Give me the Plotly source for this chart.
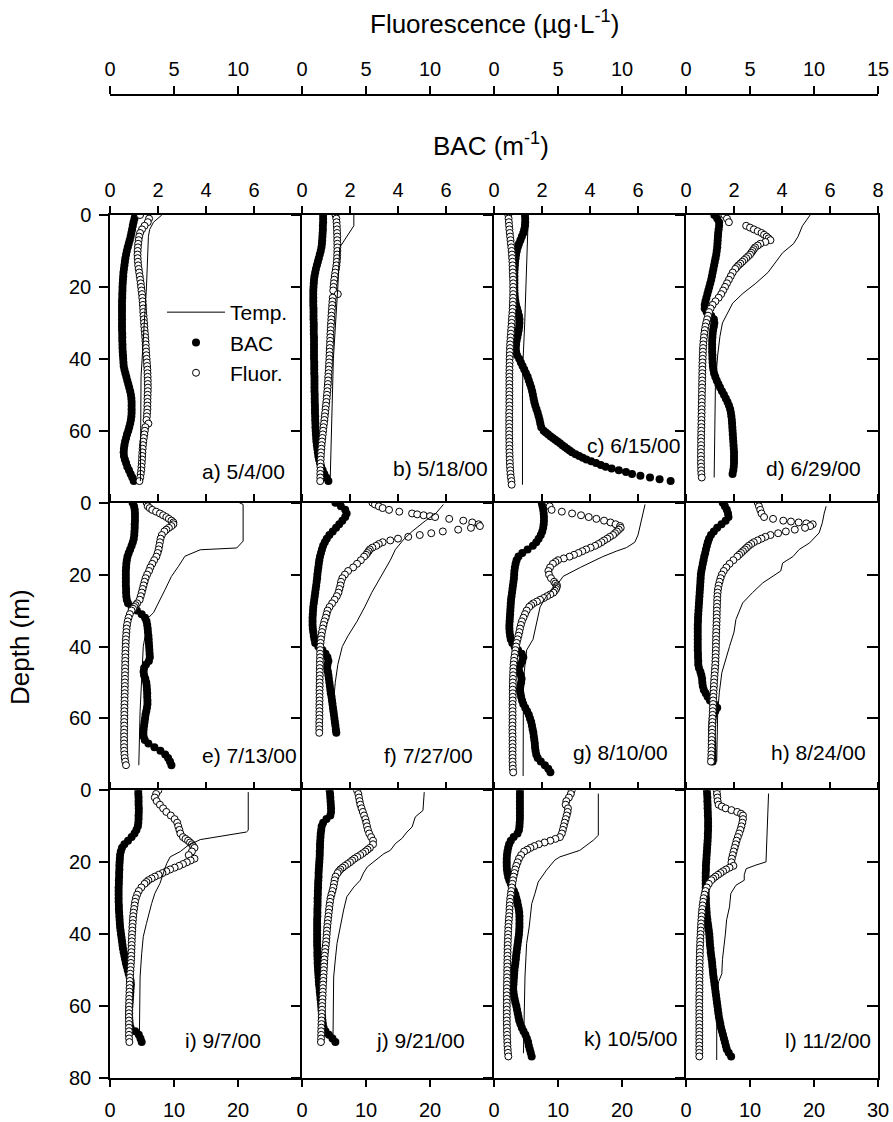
import plotly.graph_objects as go

# ---------------------------------------------------------------------------
# Depth grid (m) shared by the BAC and fluorescence profiles
# ---------------------------------------------------------------------------
depth_m = [0, 1, 2, 3, 4, 5, 6, 7, 8, 9,
           10, 11, 12, 13, 14, 15, 16, 17, 18, 19,
           20, 21, 22, 23, 24, 25, 26, 27, 28, 29,
           30, 31, 32, 33, 34, 35, 36, 37, 38, 39,
           40, 41, 42, 43, 44, 45, 46, 47, 48, 49,
           50, 51, 52, 53, 54, 55, 56, 57, 58, 59,
           60, 61, 62, 63, 64, 65, 66, 67, 68, 69,
           70, 71, 72, 73, 74, 75]

# ---------------------------------------------------------------------------
# a) 5/4/00
# ---------------------------------------------------------------------------
a_bac = [1.05, 1.02, 0.98, 0.95, 0.92, 0.89, 0.86, 0.82, 0.78, 0.74,
         0.70, 0.67, 0.64, 0.62, 0.60, 0.58, 0.56, 0.55, 0.54, 0.53,
         0.52, 0.52, 0.51, 0.51, 0.50, 0.50, 0.50, 0.50, 0.50, 0.50,
         0.50, 0.50, 0.50, 0.51, 0.51, 0.51, 0.52, 0.52, 0.53, 0.54,
         0.55, 0.56, 0.57, 0.60, 0.64, 0.68, 0.72, 0.76, 0.80, 0.84,
         0.87, 0.89, 0.90, 0.90, 0.90, 0.90, 0.89, 0.87, 0.84, 0.80,
         0.76, 0.71, 0.67, 0.63, 0.60, 0.58, 0.57, 0.58, 0.62, 0.67,
         0.72, 0.79, 0.86, 0.93, 0.99]
a_fluor = [2.35, 3.05, 2.95, 2.70, 2.50, 2.35, 2.28, 2.24, 2.20, 2.18,
           2.16, 2.15, 2.16, 2.18, 2.20, 2.24, 2.28, 2.32, 2.36, 2.40,
           2.43, 2.46, 2.50, 2.52, 2.55, 2.57, 2.59, 2.60, 2.62, 2.64,
           2.66, 2.68, 2.70, 2.73, 2.75, 2.77, 2.79, 2.80, 2.82, 2.84,
           2.86, 2.88, 2.90, 2.92, 2.93, 2.94, 2.95, 2.95, 2.96, 2.95,
           2.94, 2.93, 2.93, 2.92, 2.92, 2.90, 2.88, 2.85, 3.00, 2.76,
           2.72, 2.68, 2.64, 2.60, 2.57, 2.55, 2.53, 2.51, 2.50, 2.48,
           2.46, 2.44, 2.40, 2.36, 2.30]
a_temp_depth = [0, 1, 2, 4, 6, 20, 40, 45, 74]
a_temp = [8.1, 7.5, 6.8, 6.2, 6.0, 5.7, 5.0, 4.85, 4.75]

# ---------------------------------------------------------------------------
# b) 5/18/00
# ---------------------------------------------------------------------------
b_bac = [0.88, 0.88, 0.88, 0.87, 0.87, 0.86, 0.85, 0.84, 0.83, 0.81,
         0.78, 0.74, 0.70, 0.66, 0.62, 0.58, 0.55, 0.52, 0.50, 0.49,
         0.48, 0.47, 0.47, 0.47, 0.47, 0.47, 0.48, 0.48, 0.48, 0.48,
         0.49, 0.49, 0.49, 0.49, 0.50, 0.50, 0.50, 0.50, 0.50, 0.50,
         0.50, 0.51, 0.51, 0.51, 0.51, 0.52, 0.52, 0.52, 0.52, 0.52,
         0.53, 0.53, 0.53, 0.54, 0.54, 0.54, 0.55, 0.55, 0.56, 0.56,
         0.57, 0.58, 0.59, 0.60, 0.62, 0.64, 0.66, 0.68, 0.71, 0.75,
         0.80, 0.86, 0.93, 1.01, 1.10]
b_fluor = [2.62, 2.68, 2.70, 2.72, 2.73, 2.74, 2.75, 2.75, 2.76, 2.76,
           2.76, 2.75, 2.74, 2.72, 2.69, 2.65, 2.60, 2.56, 2.52, 2.49,
           2.46, 2.44, 2.80, 2.40, 2.38, 2.36, 2.34, 2.32, 2.30, 2.29,
           2.27, 2.25, 2.24, 2.22, 2.21, 2.20, 2.19, 2.17, 2.16, 2.15,
           2.14, 2.12, 2.11, 2.09, 2.07, 2.05, 2.04, 2.02, 2.00, 1.98,
           1.95, 1.93, 1.90, 1.87, 1.84, 1.81, 1.78, 1.75, 1.72, 1.68,
           1.65, 1.62, 1.59, 1.56, 1.53, 1.51, 1.49, 1.47, 1.46, 1.45,
           1.44, 1.44, 1.43, 1.43, 1.42]
b_temp_depth = [0, 3, 9, 20, 40, 60, 74]
b_temp = [8.1, 8.1, 5.9, 5.6, 4.9, 4.6, 4.4]

# ---------------------------------------------------------------------------
# c) 6/15/00
# ---------------------------------------------------------------------------
c_bac = [1.29, 1.30, 1.30, 1.29, 1.26, 1.22, 1.16, 1.10, 1.04, 0.99,
         0.95, 0.92, 0.90, 0.88, 0.87, 0.86, 0.85, 0.85, 0.85, 0.85,
         0.85, 0.85, 0.86, 0.87, 0.89, 0.92, 0.96, 1.00, 1.04, 1.06,
         1.06, 1.05, 1.03, 1.00, 0.97, 0.94, 0.92, 0.91, 0.92, 0.96,
         1.05, 1.12, 1.19, 1.26, 1.33, 1.40, 1.45, 1.50, 1.55, 1.59,
         1.62, 1.65, 1.68, 1.72, 1.77, 1.82, 1.86, 1.90, 1.93, 1.97,
         2.07, 2.25, 2.45, 2.65, 2.85, 3.05, 3.25, 3.55, 3.85, 4.25,
         4.65, 5.20, 5.75, 6.50, 7.36]
c_bac_fine_depth = [60.5, 61.5, 62.5, 63.5, 64.5, 65.5, 66.5, 67.5, 68.5, 69.5,
                    70.5, 71.5, 72.5, 73.5]
c_bac_fine = [2.16, 2.35, 2.55, 2.75, 2.95, 3.15, 3.40, 3.70, 4.05, 4.45,
              4.90, 5.50, 6.10, 6.90]
c_fluor = [1.12, 1.14, 1.16, 1.18, 1.20, 1.23, 1.26, 1.29, 1.32, 1.35,
           1.38, 1.40, 1.42, 1.44, 1.45, 1.46, 1.47, 1.48, 1.49, 1.50,
           1.50, 1.50, 1.50, 1.49, 1.48, 1.47, 1.46, 1.44, 1.42, 1.40,
           1.38, 1.36, 1.34, 1.32, 1.30, 1.28, 1.26, 1.25, 1.24, 1.23,
           1.22, 1.22, 1.21, 1.21, 1.20, 1.20, 1.20, 1.20, 1.20, 1.20,
           1.20, 1.20, 1.20, 1.20, 1.20, 1.19, 1.19, 1.19, 1.19, 1.19,
           1.19, 1.19, 1.19, 1.20, 1.20, 1.20, 1.21, 1.22, 1.23, 1.24,
           1.25, 1.27, 1.29, 1.32, 1.36, 1.38]
c_temp_depth = [0, 10, 20, 30, 40, 50, 75]
c_temp = [5.36, 5.2, 5.0, 4.8, 4.55, 4.45, 4.45]

# ---------------------------------------------------------------------------
# d) 6/29/00
# ---------------------------------------------------------------------------
d_bac = [1.18, 1.30, 1.38, 1.38, 1.36, 1.34, 1.33, 1.32, 1.31, 1.30,
         1.28, 1.26, 1.23, 1.20, 1.17, 1.14, 1.11, 1.08, 1.05, 1.01,
         0.97, 0.93, 0.89, 0.85, 0.81, 0.78, 0.78, 0.86, 1.05, 1.16,
         1.18, 1.16, 1.13, 1.11, 1.10, 1.09, 1.09, 1.09, 1.09, 1.10,
         1.10, 1.11, 1.12, 1.14, 1.17, 1.22, 1.28, 1.35, 1.42, 1.50,
         1.58, 1.66, 1.73, 1.79, 1.84, 1.87, 1.89, 1.91, 1.92, 1.93,
         1.94, 1.95, 1.96, 1.97, 1.98, 1.99, 2.00, 2.00, 2.00, 2.00,
         1.99, 1.97, 1.94]
d_fluor = [3.00, 3.20, 3.35, 4.70, 5.30, 5.90, 6.30, 6.60, 5.80, 5.40,
           5.20, 5.00, 4.70, 4.40, 4.10, 3.85, 3.65, 3.50, 3.35, 3.20,
           3.05, 2.90, 2.75, 2.55, 2.30, 2.08, 1.92, 1.80, 1.72, 1.65,
           1.58, 1.52, 1.47, 1.43, 1.40, 1.37, 1.35, 1.33, 1.32, 1.31,
           1.30, 1.29, 1.28, 1.28, 1.27, 1.27, 1.26, 1.26, 1.25, 1.25,
           1.24, 1.24, 1.23, 1.23, 1.22, 1.22, 1.21, 1.21, 1.20, 1.20,
           1.19, 1.19, 1.18, 1.18, 1.18, 1.17, 1.17, 1.17, 1.17, 1.17,
           1.18, 1.18, 1.20, 1.23]
d_fluor_fine_depth = [3.5, 4.5, 5.5, 6.5, 7.5, 8.5, 9.5, 10.5, 11.5, 12.5, 13.5, 14.5]
d_fluor_fine = [5.0, 5.6, 6.1, 6.45, 6.2, 5.6, 5.3, 5.1, 4.85, 4.55, 4.25, 3.97]
d_temp_depth = [0, 1, 3, 6, 8, 10.5, 13, 16, 19, 21.8, 24.5, 28, 30, 33.8, 39, 46.8, 73]
d_temp = [19.4, 19.0, 18.2, 17.5, 16.8, 15.1, 14.0, 12.8, 10.9, 8.9, 7.3, 6.25, 5.7, 5.3, 4.95, 4.6, 4.4]

# ---------------------------------------------------------------------------
# e) 7/13/00
# ---------------------------------------------------------------------------
e_bac = [0.94, 1.00, 1.03, 1.04, 1.04, 1.04, 1.03, 1.03, 1.02, 1.01,
         0.99, 0.95, 0.90, 0.84, 0.78, 0.73, 0.70, 0.68, 0.67, 0.66,
         0.66, 0.66, 0.66, 0.66, 0.67, 0.67, 0.68, 0.70, 0.75, 0.90,
         1.12, 1.32, 1.46, 1.52, 1.55, 1.57, 1.58, 1.60, 1.61, 1.62,
         1.63, 1.64, 1.65, 1.66, 1.62, 1.50, 1.42, 1.40, 1.42, 1.47,
         1.51, 1.53, 1.54, 1.55, 1.55, 1.56, 1.56, 1.54, 1.51, 1.48,
         1.46, 1.44, 1.42, 1.40, 1.39, 1.40, 1.45, 1.60, 1.85, 2.10,
         2.30, 2.42, 2.50, 2.56]
e_fluor = [2.86, 2.95, 3.30, 3.90, 4.40, 4.80, 4.95, 4.60, 4.25, 4.05,
           3.95, 3.90, 3.85, 3.80, 3.72, 3.62, 3.45, 3.30, 3.15, 3.05,
           2.90, 2.78, 2.70, 2.62, 2.55, 2.48, 2.40, 2.32, 2.12, 1.90,
           1.68, 1.55, 1.45, 1.38, 1.33, 1.30, 1.28, 1.26, 1.24, 1.23,
           1.22, 1.21, 1.20, 1.20, 1.19, 1.19, 1.18, 1.18, 1.17, 1.17,
           1.16, 1.16, 1.15, 1.15, 1.14, 1.14, 1.13, 1.13, 1.12, 1.12,
           1.12, 1.11, 1.11, 1.11, 1.10, 1.10, 1.10, 1.10, 1.10, 1.11,
           1.13, 1.15, 1.19, 1.25]
e_fluor_fine_depth = [1.5, 2.5, 3.5, 4.5, 5.5, 6.5, 7.5, 28.5, 29.5]
e_fluor_fine = [3.1, 3.6, 4.15, 4.6, 4.95, 4.8, 4.4, 2.0, 1.8]
e_temp_depth = [0, 0.5, 10.7, 12.6, 13.1, 14.9, 17.7, 20.5, 24.2, 27, 30.6, 32, 40, 49, 58, 73]
e_temp = [20.2, 20.8, 20.8, 19.8, 14.1, 11.7, 10.7, 9.6, 8.6, 7.8, 6.8, 6.0, 5.2, 4.95, 4.7, 4.5]

# ---------------------------------------------------------------------------
# f) 7/27/00
# ---------------------------------------------------------------------------
f_bac = [1.39, 1.62, 1.80, 1.86, 1.80, 1.68, 1.55, 1.42, 1.28, 1.14,
         1.03, 0.95, 0.88, 0.83, 0.79, 0.75, 0.72, 0.70, 0.68, 0.66,
         0.64, 0.63, 0.61, 0.59, 0.57, 0.55, 0.53, 0.51, 0.49, 0.47,
         0.46, 0.45, 0.44, 0.44, 0.44, 0.45, 0.47, 0.49, 0.52, 0.55,
         0.68, 0.85, 0.98, 1.06, 1.10, 1.06, 1.05, 1.08, 1.10, 1.12,
         1.14, 1.16, 1.18, 1.20, 1.23, 1.25, 1.27, 1.29, 1.31, 1.33,
         1.35, 1.37, 1.39, 1.41, 1.43]
f_fluor = [5.50, 6.00, 6.80, 8.60, 10.40, 12.60, 13.80, 13.20, 11.00, 9.20,
           7.50, 6.30, 5.80, 5.30, 5.10, 4.85, 4.60, 4.30, 4.00, 3.60,
           3.35, 3.15, 3.05, 3.00, 2.92, 2.85, 2.72, 2.55, 2.35, 2.15,
           2.00, 1.92, 1.85, 1.75, 1.68, 1.62, 1.56, 1.52, 1.48, 1.45,
           1.43, 1.42, 1.41, 1.41, 1.40, 1.40, 1.39, 1.39, 1.39, 1.38,
           1.38, 1.38, 1.37, 1.37, 1.37, 1.37, 1.36, 1.36, 1.36, 1.36,
           1.36, 1.35, 1.35, 1.35, 1.35]
f_fluor_fine_depth = [0.5, 1.5, 2.5, 3.25, 3.5, 3.75, 4.5, 5.5, 6.5, 7.5, 8.5, 9.5,
                      10.5, 11.5, 12.5, 13.5, 14.5]
f_fluor_fine = [5.7, 6.3, 7.6, 9.0, 9.5, 10.0, 11.5, 13.3, 13.9, 12.2, 10.1, 8.3,
                6.9, 6.0, 5.5, 5.2, 5.0]
f_temp_depth = [0.5, 3, 5, 8, 10, 13, 16, 20, 25, 29, 33, 37, 40, 45, 50, 55, 64]
f_temp = [22.1, 20.9, 19.3, 17.2, 16.0, 14.6, 13.8, 12.5, 10.9, 9.8, 8.6, 7.2, 6.3, 5.6, 5.2, 4.95, 4.8]

# ---------------------------------------------------------------------------
# g) 8/10/00
# ---------------------------------------------------------------------------
g_bac = [1.99, 2.02, 2.05, 2.07, 2.08, 2.08, 2.07, 2.05, 2.01, 1.95,
         1.86, 1.76, 1.62, 1.40, 1.18, 1.02, 0.94, 0.90, 0.87, 0.85,
         0.84, 0.83, 0.81, 0.79, 0.77, 0.75, 0.73, 0.71, 0.70, 0.69,
         0.68, 0.67, 0.66, 0.65, 0.64, 0.64, 0.65, 0.67, 0.70, 0.76,
         0.86, 1.00, 1.15, 1.22, 1.18, 1.10, 1.03, 1.05, 1.12, 1.15,
         1.13, 1.10, 1.08, 1.10, 1.13, 1.17, 1.22, 1.30, 1.38, 1.45,
         1.50, 1.55, 1.58, 1.61, 1.64, 1.66, 1.68, 1.70, 1.71, 1.73,
         1.76, 1.82, 1.95, 2.12, 2.26, 2.35]
g_fluor = [4.24, 4.35, 4.50, 6.10, 7.40, 8.60, 9.50, 9.90, 9.60, 9.30,
           8.85, 8.40, 7.90, 7.20, 6.60, 5.90, 5.00, 4.60, 4.38, 4.25,
           4.30, 4.45, 4.70, 4.92, 4.85, 4.64, 4.15, 3.60, 3.07, 2.75,
           2.55, 2.42, 2.30, 2.18, 2.10, 2.03, 1.98, 1.91, 1.84, 1.77,
           1.72, 1.67, 1.63, 1.59, 1.56, 1.53, 1.51, 1.50, 1.49, 1.48,
           1.47, 1.47, 1.46, 1.46, 1.46, 1.46, 1.45, 1.45, 1.45, 1.45,
           1.45, 1.45, 1.44, 1.44, 1.44, 1.45, 1.45, 1.45, 1.45, 1.45,
           1.45, 1.45, 1.45, 1.46, 1.47, 1.50]
g_fluor_fine_depth = [2.5, 3.5, 4.5, 5.5, 6.5, 7.5, 8.5, 9.5, 10.5, 11.5, 12.5, 13.5,
                      14.5, 15.5, 16.5, 22.5, 23.5, 24.5, 25.5, 26.5, 27.5, 28.5]
g_fluor_fine = [5.3, 6.8, 8.0, 9.1, 9.85, 9.75, 9.45, 9.05, 8.6, 8.15, 7.55, 6.9,
                6.25, 5.45, 4.8, 4.8, 4.9, 4.75, 4.4, 3.9, 3.35, 2.9]
g_temp_depth = [0.5, 3, 6, 9, 11, 12.5, 13.5, 15, 18, 20.5, 22.5, 26, 29, 38, 41, 44, 49, 76]
g_temp = [23.6, 23.3, 22.9, 22.5, 22.0, 20.7, 19.1, 17.0, 13.5, 10.8, 10.0, 8.2, 7.2, 6.1, 5.1, 4.9, 4.6, 4.55]

# ---------------------------------------------------------------------------
# h) 8/24/00
# ---------------------------------------------------------------------------
h_bac = [1.53, 1.62, 1.70, 1.75, 1.77, 1.65, 1.48, 1.30, 1.16, 1.04,
         0.96, 0.91, 0.87, 0.83, 0.80, 0.76, 0.73, 0.70, 0.67, 0.64,
         0.62, 0.61, 0.60, 0.59, 0.58, 0.57, 0.56, 0.55, 0.54, 0.53,
         0.52, 0.51, 0.50, 0.50, 0.49, 0.49, 0.49, 0.49, 0.49, 0.49,
         0.49, 0.49, 0.50, 0.50, 0.51, 0.51, 0.54, 0.60, 0.64, 0.67,
         0.68, 0.70, 0.74, 0.82, 0.90, 1.00, 1.18, 1.30, 1.22, 1.14,
         1.11, 1.10, 1.09, 1.08, 1.08, 1.08, 1.09, 1.10, 1.10, 1.11,
         1.11, 1.11, 1.11]
h_fluor = [5.60, 5.70, 5.80, 5.90, 6.10, 7.60, 9.90, 9.30, 7.80, 6.60,
           5.90, 5.30, 4.90, 4.60, 4.30, 4.00, 3.70, 3.40, 3.15, 2.95,
           2.80, 2.70, 2.62, 2.55, 2.50, 2.47, 2.45, 2.44, 2.43, 2.42,
           2.41, 2.40, 2.40, 2.39, 2.38, 2.37, 2.36, 2.35, 2.35, 2.34,
           2.34, 2.33, 2.32, 2.31, 2.30, 2.29, 2.27, 2.25, 2.23, 2.21,
           2.19, 2.18, 2.16, 2.15, 2.13, 2.12, 2.11, 2.10, 2.09, 2.08,
           2.07, 2.06, 2.05, 2.04, 2.03, 2.02, 2.01, 2.00, 2.00, 1.99,
           1.98, 1.97, 1.95]
h_fluor_fine_depth = [4.5, 5.25, 5.5, 5.75, 6.5, 7.5, 8.5, 9.5, 10.5, 11.5, 12.5, 13.5, 14.5]
h_fluor_fine = [6.8, 8.2, 8.8, 9.4, 9.7, 8.5, 7.2, 6.2, 5.6, 5.1, 4.75, 4.45, 4.15]
h_temp_depth = [1, 2.9, 5.6, 8.4, 11.2, 13, 15, 16.8, 19, 20.5, 22.3, 25, 27.9, 32.5, 36, 40,
                43.6, 47.3, 52.9, 58.4, 72]
h_temp = [21.9, 21.6, 21.3, 20.8, 19.3, 17.7, 16.7, 15.1, 14.8, 13.5, 12.0, 10.4, 8.85, 7.8,
          7.5, 6.8, 6.25, 5.6, 5.2, 4.95, 4.8]

# ---------------------------------------------------------------------------
# i) 9/7/00
# ---------------------------------------------------------------------------
i_bac = [1.18, 1.18, 1.19, 1.19, 1.19, 1.20, 1.20, 1.19, 1.19, 1.18,
         1.16, 1.10, 1.02, 0.90, 0.75, 0.60, 0.50, 0.45, 0.42, 0.41,
         0.40, 0.39, 0.39, 0.38, 0.38, 0.37, 0.37, 0.36, 0.36, 0.36,
         0.36, 0.36, 0.37, 0.37, 0.38, 0.39, 0.40, 0.41, 0.42, 0.44,
         0.46, 0.48, 0.50, 0.52, 0.54, 0.57, 0.60, 0.63, 0.66, 0.70,
         0.74, 0.78, 0.82, 0.86, 0.87, 0.86, 0.85, 0.84, 0.83, 0.82,
         0.81, 0.80, 0.80, 0.80, 0.81, 0.82, 0.86, 1.05, 1.20, 1.27,
         1.32]
i_fluor = [3.78, 3.60, 3.50, 3.65, 3.90, 4.15, 4.40, 4.75, 5.05, 5.25,
           5.33, 5.42, 5.50, 5.70, 6.10, 6.40, 6.60, 6.40, 6.15, 6.60,
           6.00, 5.40, 4.70, 4.10, 3.50, 3.00, 2.70, 2.45, 2.25, 2.12,
           2.02, 1.96, 1.92, 1.88, 1.84, 1.81, 1.79, 1.77, 1.75, 1.74,
           1.72, 1.71, 1.70, 1.69, 1.68, 1.67, 1.66, 1.65, 1.63, 1.62,
           1.60, 1.58, 1.56, 1.55, 1.54, 1.53, 1.52, 1.51, 1.50, 1.50,
           1.49, 1.49, 1.48, 1.48, 1.48, 1.48, 1.48, 1.48, 1.48, 1.49,
           1.51]
i_fluor_fine_depth = [13.5, 14.5, 15.5, 19.5, 20.5, 21.5, 22.5, 23.5, 24.5, 25.5]
i_fluor_fine = [5.9, 6.25, 6.5, 6.3, 5.7, 5.05, 4.4, 3.8, 3.25, 2.85]
i_temp_depth = [0.5, 11.1, 11.6, 13.7, 14.4, 15.3, 17, 18.5, 20.4, 23, 25.9, 28.7, 31.5, 37,
                40.7, 45.4, 51.9, 67.6]
i_temp = [21.6, 21.6, 21.3, 14.1, 13.3, 12.2, 11.0, 9.4, 8.85, 8.3, 7.8, 7.0, 6.5, 5.7,
          5.2, 4.95, 4.7, 4.6]

# ---------------------------------------------------------------------------
# j) 9/21/00
# ---------------------------------------------------------------------------
j_bac = [1.15, 1.17, 1.18, 1.19, 1.20, 1.21, 1.21, 1.18, 1.02, 0.88,
         0.82, 0.80, 0.78, 0.77, 0.76, 0.75, 0.75, 0.74, 0.74, 0.73,
         0.72, 0.71, 0.70, 0.69, 0.69, 0.68, 0.67, 0.67, 0.66, 0.66,
         0.65, 0.65, 0.65, 0.64, 0.64, 0.64, 0.63, 0.63, 0.63, 0.63,
         0.63, 0.63, 0.63, 0.63, 0.64, 0.64, 0.64, 0.65, 0.65, 0.66,
         0.67, 0.68, 0.69, 0.70, 0.71, 0.73, 0.74, 0.76, 0.77, 0.79,
         0.80, 0.81, 0.83, 0.84, 0.85, 0.87, 0.90, 0.98, 1.12, 1.27,
         1.39]
j_fluor = [4.30, 4.40, 4.45, 4.50, 4.56, 4.65, 4.75, 4.85, 4.95, 5.02,
           5.08, 5.15, 5.25, 5.40, 5.55, 5.55, 5.30, 4.95, 4.55, 4.10,
           3.75, 3.35, 3.00, 2.78, 2.62, 2.55, 2.50, 2.45, 2.38, 2.30,
           2.23, 2.19, 2.15, 2.12, 2.09, 2.06, 2.03, 2.00, 1.97, 1.95,
           1.93, 1.91, 1.89, 1.86, 1.83, 1.80, 1.77, 1.75, 1.73, 1.72,
           1.70, 1.69, 1.67, 1.66, 1.64, 1.63, 1.62, 1.61, 1.60, 1.58,
           1.57, 1.56, 1.55, 1.54, 1.53, 1.52, 1.51, 1.50, 1.50, 1.49,
           1.48]
j_fluor_fine_depth = [16.5, 17.5, 18.5, 19.5, 20.5, 21.5, 22.5]
j_fluor_fine = [5.12, 4.75, 4.32, 3.92, 3.55, 3.17, 2.88]
j_temp_depth = [0.5, 5.6, 7.4, 10.2, 11.6, 13.4, 14.8, 16.7, 17.6, 19.4, 21.3, 23, 25, 26.9,
                29.6, 33.3, 38, 42.6, 47.2, 51.9, 69.4]
j_temp = [19.1, 18.9, 17.7, 17.2, 16.4, 15.6, 14.6, 13.8, 12.8, 11.5, 10.2, 9.6, 9.1, 8.1,
          7.0, 6.5, 6.0, 5.47, 5.2, 4.95, 4.84]

# ---------------------------------------------------------------------------
# k) 10/5/00
# ---------------------------------------------------------------------------
k_bac = [1.08, 1.08, 1.08, 1.08, 1.08, 1.08, 1.08, 1.08, 1.08, 1.07,
         1.06, 1.04, 0.98, 0.82, 0.70, 0.63, 0.59, 0.56, 0.54, 0.53,
         0.53, 0.53, 0.54, 0.56, 0.59, 0.64, 0.70, 0.76, 0.83, 0.89,
         0.93, 0.97, 1.00, 1.03, 1.05, 1.06, 1.06, 1.06, 1.06, 1.05,
         1.04, 1.02, 1.00, 0.98, 0.96, 0.94, 0.92, 0.91, 0.89, 0.87,
         0.85, 0.84, 0.83, 0.82, 0.81, 0.80, 0.81, 0.83, 0.86, 0.89,
         0.93, 0.96, 0.99, 1.02, 1.05, 1.10, 1.16, 1.23, 1.31, 1.37,
         1.42, 1.45, 1.49, 1.53, 1.57]
k_fluor = [6.07, 6.00, 5.85, 5.65, 5.60, 5.78, 5.75, 5.68, 5.60, 5.52,
           5.45, 5.38, 5.30, 5.15, 4.40, 3.50, 2.85, 2.35, 2.12, 1.95,
           1.84, 1.74, 1.66, 1.60, 1.53, 1.48, 1.43, 1.39, 1.35, 1.31,
           1.27, 1.25, 1.23, 1.21, 1.20, 1.18, 1.16, 1.14, 1.12, 1.11,
           1.10, 1.09, 1.08, 1.07, 1.06, 1.06, 1.05, 1.05, 1.04, 1.04,
           1.03, 1.03, 1.02, 1.02, 1.01, 1.01, 1.00, 1.00, 1.00, 1.00,
           1.00, 1.00, 1.00, 1.00, 1.00, 1.00, 1.01, 1.01, 1.02, 1.03,
           1.04, 1.05, 1.07, 1.09, 1.12]
k_fluor_fine_depth = [13.5, 14.5, 15.5, 16.5]
k_fluor_fine = [4.8, 3.95, 3.15, 2.6]
k_temp_depth = [0.9, 12.5, 13.9, 16.7, 18.5, 19.4, 22.2, 25.5, 28.7, 31.5, 38, 42.6, 51.9, 73.1]
k_temp = [16.3, 16.3, 15.5, 13.4, 10.3, 9.5, 8.2, 6.9, 6.4, 5.9, 5.5, 5.1, 4.84, 4.6]

# ---------------------------------------------------------------------------
# l) 11/2/00
# ---------------------------------------------------------------------------
l_bac = [0.87, 0.88, 0.89, 0.89, 0.90, 0.90, 0.91, 0.91, 0.92, 0.92,
         0.92, 0.92, 0.91, 0.91, 0.90, 0.89, 0.88, 0.87, 0.86, 0.85,
         0.84, 0.83, 0.83, 0.82, 0.82, 0.82, 0.82, 0.82, 0.82, 0.82,
         0.83, 0.83, 0.84, 0.85, 0.86, 0.87, 0.89, 0.91, 0.93, 0.95,
         0.97, 0.98, 0.99, 1.00, 1.02, 1.03, 1.05, 1.07, 1.09, 1.10,
         1.12, 1.13, 1.15, 1.17, 1.19, 1.21, 1.23, 1.25, 1.27, 1.29,
         1.31, 1.33, 1.35, 1.37, 1.40, 1.43, 1.46, 1.50, 1.54, 1.58,
         1.62, 1.66, 1.70, 1.78, 1.88]
l_fluor = [2.40, 2.42, 2.45, 2.47, 2.55, 3.10, 4.00, 4.45, 4.45, 4.40,
           4.33, 4.25, 4.15, 4.05, 3.95, 3.88, 3.80, 3.72, 3.65, 3.58,
           3.55, 3.70, 3.13, 2.70, 2.30, 1.98, 1.78, 1.62, 1.52, 1.45,
           1.38, 1.34, 1.30, 1.27, 1.24, 1.22, 1.20, 1.18, 1.17, 1.15,
           1.14, 1.12, 1.11, 1.10, 1.09, 1.08, 1.08, 1.07, 1.07, 1.06,
           1.06, 1.06, 1.05, 1.05, 1.05, 1.05, 1.05, 1.04, 1.04, 1.04,
           1.04, 1.04, 1.04, 1.04, 1.04, 1.04, 1.04, 1.04, 1.04, 1.04,
           1.04, 1.04, 1.04, 1.04, 1.04]
l_fluor_fine_depth = [4.5, 5.5, 6.5, 21.5, 22.5, 23.5, 24.5]
l_fluor_fine = [2.8, 3.55, 4.3, 3.4, 2.9, 2.5, 2.12]
l_temp_depth = [0.9, 19.4, 19.9, 20.8, 21.8, 23.5, 25, 26.4, 28.7, 32.4, 36, 40, 47, 51, 53.2, 56.5, 75]
l_temp = [12.9, 12.6, 12.5, 10.9, 9.4, 9.1, 9.1, 7.8, 7.0, 6.8, 6.35, 6.15, 5.7, 5.6, 5.1, 4.8, 4.8]

panel_tags = ["a) 5/4/00", "b) 5/18/00", "c) 6/15/00", "d) 6/29/00",
              "e) 7/13/00", "f) 7/27/00", "g) 8/10/00", "h) 8/24/00",
              "i) 9/7/00", "j) 9/21/00", "k) 10/5/00", "l) 11/2/00"]

bac_ticks = [0, 2, 4, 6, 8]
fluor_ticks = [0, 5, 10, 15]
temp_ticks = [0, 10, 20, 30]
depth_ticks = [0, 20, 40, 60, 80]

# (bac, extra bac depths, extra bac, fluor, extra fluor depths, extra fluor, temp depths, temp)
profiles = [
    (a_bac, [], [], a_fluor, [], [], a_temp_depth, a_temp),
    (b_bac, [], [], b_fluor, [], [], b_temp_depth, b_temp),
    (c_bac, c_bac_fine_depth, c_bac_fine, c_fluor, [], [], c_temp_depth, c_temp),
    (d_bac, [], [], d_fluor, d_fluor_fine_depth, d_fluor_fine, d_temp_depth, d_temp),
    (e_bac, [], [], e_fluor, e_fluor_fine_depth, e_fluor_fine, e_temp_depth, e_temp),
    (f_bac, [], [], f_fluor, f_fluor_fine_depth, f_fluor_fine, f_temp_depth, f_temp),
    (g_bac, [], [], g_fluor, g_fluor_fine_depth, g_fluor_fine, g_temp_depth, g_temp),
    (h_bac, [], [], h_fluor, h_fluor_fine_depth, h_fluor_fine, h_temp_depth, h_temp),
    (i_bac, [], [], i_fluor, i_fluor_fine_depth, i_fluor_fine, i_temp_depth, i_temp),
    (j_bac, [], [], j_fluor, j_fluor_fine_depth, j_fluor_fine, j_temp_depth, j_temp),
    (k_bac, [], [], k_fluor, k_fluor_fine_depth, k_fluor_fine, k_temp_depth, k_temp),
    (l_bac, [], [], l_fluor, l_fluor_fine_depth, l_fluor_fine, l_temp_depth, l_temp),
]

# ---------------------------------------------------------------------------
# Page geometry (pixels) for the 3 x 4 panel grid
# ---------------------------------------------------------------------------
W, H = 893, 1122
LEFT, PANEL_W = 110, 192
TOP, PANEL_H = 215, 287.67
FLUOR_AXIS_Y = 95
FONT = "Liberation Sans, Arial, sans-serif"
TICK_FONT = dict(family=FONT, size=20, color="black")
LINE_W = 1.5

# right end (px) and vertical centre (px) of each panel tag
tag_pos = [(287, 471), (490, 468), (682, 445), (863, 469),
           (299, 755), (475, 755), (670, 752), (868, 752),
           (263, 1040), (467, 1040), (679, 1038), (873, 1040)]


def ax_name(kind, n):
    return kind if n == 1 else f"{kind}{n}"


def by_depth(depths, values):
    pairs = sorted(zip(depths, values))
    return [v for _, v in pairs], [d for d, _ in pairs]


fig = go.Figure()
layout = {}
common = dict(showgrid=False, zeroline=False, fixedrange=True, automargin=False)

for p, (bac, bac_fd, bac_f, fluor, fl_fd, fl_f, t_depth, temp) in enumerate(profiles):
    row, col = divmod(p, 4)
    x0 = (LEFT + PANEL_W * col) / W
    x1 = (LEFT + PANEL_W * (col + 1)) / W
    ytop = TOP + PANEL_H * row
    y1 = 1 - ytop / H
    y0 = 1 - (ytop + PANEL_H) / H

    xb, xf, xt = 3 * p + 1, 3 * p + 2, 3 * p + 3
    yd = p + 1
    last_col = col == 3
    last_row = row == 2

    # BAC axis along the top edge of every panel
    layout[ax_name("xaxis", xb)] = dict(
        domain=[x0, x1], range=[0, 8], anchor=ax_name("y", yd), side="top",
        showline=True, linecolor="black", linewidth=LINE_W, mirror=False,
        ticks="outside", ticklen=7, tickwidth=LINE_W, tickcolor="black",
        tickvals=bac_ticks if last_col else bac_ticks[:-1],
        showticklabels=(row == 0), tickfont=TICK_FONT, ticklabelstandoff=1,
        **common,
    )
    # Fluorescence axis: drawn once, detached above the BAC titles
    fl = dict(range=[0, 15], overlaying=ax_name("x", xb), **common)
    if row == 0:
        fl.update(anchor="free", position=1 - FLUOR_AXIS_Y / H, side="top",
                  showline=True, linecolor="black", linewidth=LINE_W,
                  ticks="outside", ticklen=8, tickwidth=LINE_W, tickcolor="black",
                  tickvals=fluor_ticks if last_col else fluor_ticks[:-1],
                  tickfont=TICK_FONT, ticklabelstandoff=2)
    else:
        fl.update(anchor=ax_name("y", yd), visible=False)
    layout[ax_name("xaxis", xf)] = fl
    # Temperature axis along the bottom of the lowest row
    tp = dict(range=[0, 30], overlaying=ax_name("x", xb), anchor=ax_name("y", yd),
              side="bottom", **common)
    if last_row:
        tp.update(showline=True, linecolor="black", linewidth=LINE_W,
                  ticks="outside", ticklen=7, tickwidth=LINE_W, tickcolor="black",
                  tickvals=temp_ticks if last_col else temp_ticks[:-1],
                  tickfont=TICK_FONT, ticklabelstandoff=6)
    else:
        tp.update(visible=False)
    layout[ax_name("xaxis", xt)] = tp

    # Depth axis
    layout[ax_name("yaxis", yd)] = dict(
        domain=[y0, y1], range=[80, 0], anchor=ax_name("x", xb), side="left",
        showline=True, linecolor="black", linewidth=LINE_W,
        ticks="outside", ticklen=9, tickwidth=LINE_W, tickcolor="black",
        tickvals=depth_ticks if last_row else depth_ticks[:-1],
        showticklabels=(col == 0), tickfont=TICK_FONT, ticklabelstandoff=4,
        **common,
    )
    temp_y = ax_name("y", yd)
    if last_col:
        yr = 13 + row
        layout[ax_name("yaxis", yr)] = dict(
            range=[80, 0], overlaying=ax_name("y", yd), anchor=ax_name("x", xb),
            side="right", showline=True, linecolor="black", linewidth=LINE_W,
            ticks="inside", ticklen=11, tickwidth=LINE_W, tickcolor="black",
            tickvals=[20, 40, 60], showticklabels=False, **common,
        )
        temp_y = ax_name("y", yr)

    show = p == 0
    fl_x, fl_y = by_depth(depth_m[:len(fluor)] + fl_fd, fluor + fl_f)
    bac_x, bac_y = by_depth(depth_m[:len(bac)] + bac_fd, bac + bac_f)

    fig.add_trace(go.Scatter(
        x=temp, y=t_depth, xaxis=ax_name("x", xt), yaxis=temp_y,
        mode="lines", line=dict(color="black", width=1),
        name="Temp.", legendrank=1, showlegend=show, hoverinfo="skip",
    ))
    fig.add_trace(go.Scatter(
        x=fl_x, y=fl_y, xaxis=ax_name("x", xf), yaxis=ax_name("y", yd),
        mode="markers",
        marker=dict(symbol="circle", size=7, color="white",
                    line=dict(color="black", width=1)),
        name="Fluor.", legendrank=3, showlegend=show, hoverinfo="skip",
    ))
    fig.add_trace(go.Scatter(
        x=bac_x, y=bac_y, xaxis=ax_name("x", xb), yaxis=ax_name("y", yd),
        mode="markers", marker=dict(symbol="circle", size=8, color="black"),
        name="BAC", legendrank=2, showlegend=show, hoverinfo="skip",
    ))

annotations = []
for tag, (rx, cy) in zip(panel_tags, tag_pos):
    annotations.append(dict(
        text=tag, xref="paper", yref="paper", x=rx / W, y=1 - cy / H,
        xanchor="right", yanchor="middle", showarrow=False,
        font=dict(family=FONT, size=21, color="black"),
    ))

TITLE_FONT = dict(family=FONT, size=26, color="black")
annotations += [
    dict(text="Fluorescence (µg·L<sup>-1</sup>)", xref="paper", yref="paper",
         x=494 / W, y=1 - 22 / H, xanchor="center", yanchor="middle",
         showarrow=False, font=TITLE_FONT),
    dict(text="BAC (m<sup>-1</sup>)", xref="paper", yref="paper",
         x=491 / W, y=1 - 144 / H, xanchor="center", yanchor="middle",
         showarrow=False, font=TITLE_FONT),
    dict(text="Depth (m)", xref="paper", yref="paper",
         x=20 / W, y=1 - 647 / H, xanchor="center", yanchor="middle",
         textangle=-90, showarrow=False, font=TITLE_FONT),
]

fig.update_layout(
    **layout,
    width=W, height=H,
    margin=dict(l=0, r=0, t=0, b=0, autoexpand=False),
    paper_bgcolor="white", plot_bgcolor="white",
    annotations=annotations,
    showlegend=True,
    legend=dict(x=162 / W, y=1 - 292 / H, xanchor="left", yanchor="top",
                bgcolor="rgba(0,0,0,0)", borderwidth=0, itemwidth=58,
                font=dict(family=FONT, size=21, color="black"),
                tracegroupgap=0),
)

fig.write_html("out.html")
